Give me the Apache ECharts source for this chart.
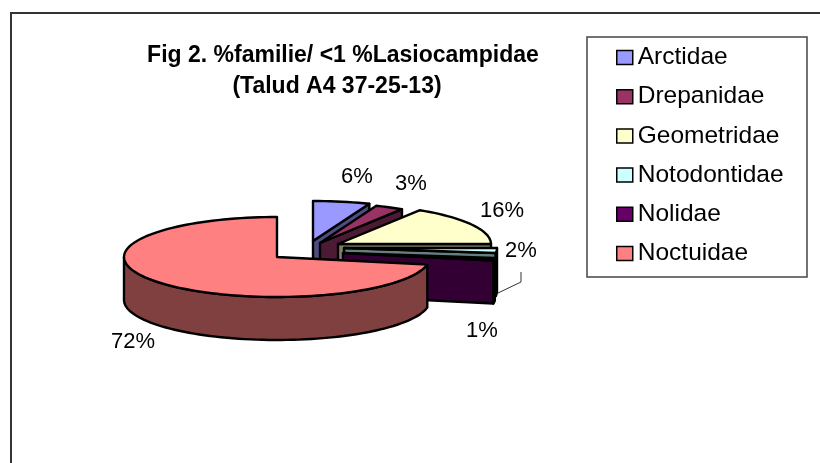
<!DOCTYPE html>
<html><head><meta charset="utf-8">
<style>html,body{margin:0;padding:0;background:#fff}#c{width:820px;height:463px}</style>
<script src="https://cdn.jsdelivr.net/npm/echarts@6/dist/echarts.min.js"></script>
</head><body><div id="c"></div>
<script>
const families = ['Arctidae','Drepanidae','Geometridae','Notodontidae','Nolidae','Noctuidae'];
const shares = [6,3,16,2,1,72];
const topColors = ['#9999FF','#993366','#FFFFCC','#CCFFFF','#660066','#FF8080'];
const wallColors = ['#4D4D80','#4D1A33','#808066','#668080','#330033','#804040'];
const titleLines = ['Fig 2. %familie/ <1 %Lasiocampidae','(Talud A4 37-25-13)'];

// 3-D projection of the pie
const RX = 153, RY = 40, DEPTH = 43;
const centres = [[313,241],[320,243],[338,244],[344,248],[343,253],[277,257]];
const labelAt = [[357,177],[411,184],[502,211],[521,251],[482,331],[133,342]];
const FONT = '"Liberation Sans", Arial, sans-serif';

const total = shares.reduce((a,b)=>a+b,0);
function sliceChildren(i){
  let start = 0; for(let k=0;k<i;k++) start += shares[k];
  const a0 = start/total*2*Math.PI, a1 = (start+shares[i])/total*2*Math.PI;
  const [cx,cy] = centres[i];
  const pt = (a,dy=0)=>[cx+RX*Math.sin(a), cy-RY*Math.cos(a)+dy];
  const arc = (from,to,dy=0)=>{const n=Math.max(2,Math.ceil(Math.abs(to-from)/0.04));const r=[];for(let k=0;k<=n;k++)r.push(pt(from+(to-from)*k/n,dy));return r;};
  const poly=(points,fill)=>({type:'polygon',shape:{points},style:{fill,stroke:'#000',lineWidth:2.4,lineJoin:'round'}});
  const c=[];
  const apex=[cx,cy], apexLow=[cx,cy+DEPTH];
  // cut faces are drawn only when they turn towards the viewer
  if(a1<Math.PI) c.push(poly([apex,pt(a1),pt(a1,DEPTH),apexLow],wallColors[i]));
  if(a0>Math.PI) c.push(poly([apex,pt(a0),pt(a0,DEPTH),apexLow],wallColors[i]));
  // outer wall: only the part on the front half of the ellipse
  const fa=Math.max(a0,Math.PI/2), fb=Math.min(a1,Math.PI*1.5);
  if(fb>fa) c.push(poly(arc(fa,fb).concat(arc(fb,fa,DEPTH)),wallColors[i]));
  // top
  c.push(poly([apex].concat(arc(a0,a1)),topColors[i]));
  return c;
}
const series = families.map((name,i)=>({
  type:'custom', name, coordinateSystem:'none', silent:true, z:2+i,
  data:[shares[i]],
  itemStyle:{color:topColors[i]},
  renderItem:()=>({type:'group',children:sliceChildren(i)})
}));

const labels = shares.map((s,i)=>({type:'text',z:50,x:labelAt[i][0],y:labelAt[i][1],
  style:{text:s+'%',font:'22px '+FONT,fill:'#000',align:'center',verticalAlign:'middle'}}));

const chart = echarts.init(document.getElementById('c'),null,{renderer:'canvas'});
chart.setOption({
  animation:false,
  backgroundColor:'#fff',
  title:{show:false},
  legend:{
    selectedMode:false, orient:'vertical', left:616, top:45,
    itemWidth:16, itemHeight:14, itemGap:14.2, padding:0,
    textStyle:{fontFamily:'Liberation Sans',fontSize:24.5,lineHeight:14,color:'#000',padding:[0,0,0,0]},
    data:families.map((name,i)=>({name,icon:'rect',itemStyle:{color:topColors[i],borderColor:'#000',borderWidth:1.5}}))
  },
  graphic:{elements:[
    {type:'rect',z:0,shape:{x:11,y:13,width:900,height:600},style:{fill:'#fff',stroke:'#333',lineWidth:2}},
    {type:'rect',z:1,shape:{x:587,y:37,width:220,height:240},style:{fill:'#fff',stroke:'#444',lineWidth:1.5}},
    {type:'text',z:50,x:343,y:56,style:{text:titleLines[0],font:'bold 23px '+FONT,fill:'#000',align:'center',verticalAlign:'middle'}},
    {type:'text',z:50,x:337,y:87,style:{text:titleLines[1],font:'bold 23px '+FONT,fill:'#000',align:'center',verticalAlign:'middle'}},
    {type:'polyline',z:50,shape:{points:[[521,272],[521,282],[498,293]]},style:{fill:null,stroke:'#333',lineWidth:1}},
    ...labels
  ]},
  series
});
</script></body></html>
